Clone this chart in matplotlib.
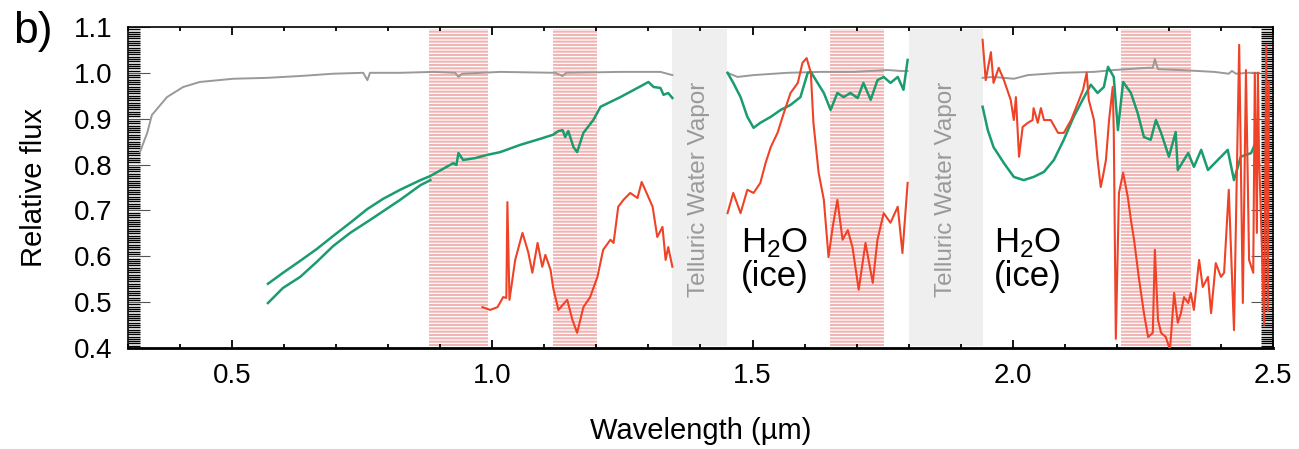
import matplotlib
matplotlib.use('Agg')
import matplotlib.pyplot as plt
from matplotlib.ticker import MultipleLocator, FormatStrFormatter

plt.rcParams['font.family'] = ['Liberation Sans', 'DejaVu Sans']
plt.rcParams['hatch.linewidth'] = 1.5

# ── Spectra (relative flux vs wavelength, µm) ────────────────────────────────
# Standard star ratio, broken at the telluric bands
std_wl_a = [0.323, 0.337, 0.346, 0.375, 0.406, 0.438, 0.502, 0.567, 0.631, 0.694,
            0.752, 0.760, 0.765, 0.823, 0.887, 0.929, 0.935, 0.942, 1.015, 1.121,
            1.135, 1.142, 1.246, 1.323, 1.346]
std_fx_a = [0.827, 0.869, 0.908, 0.947, 0.969, 0.980, 0.987, 0.989, 0.993, 0.998,
            1.000, 0.984, 1.000, 1.000, 1.002, 1.000, 0.991, 0.998, 1.002, 1.000,
            0.993, 1.000, 1.002, 1.002, 0.995]
std_wl_b = [1.452, 1.471, 1.502, 1.567, 1.631, 1.694, 1.760, 1.785, 1.798]
std_fx_b = [1.000, 0.991, 0.995, 1.000, 1.002, 1.002, 1.006, 1.004, 1.004]
std_wl_c = [1.942, 1.963, 2.002, 2.029, 2.092, 2.156, 2.194, 2.260, 2.269, 2.273,
            2.279, 2.323, 2.387, 2.415, 2.421, 2.429, 2.452, 2.473]
std_fx_c = [0.989, 0.991, 0.987, 0.995, 1.000, 1.002, 1.006, 1.011, 1.011, 1.030,
            1.008, 1.006, 1.002, 0.998, 1.004, 0.998, 1.000, 1.000]

# Green object: two visible arms that merge near 0.88 µm
grn_wl_arm = [0.569, 0.598, 0.631, 0.663, 0.694, 0.727, 0.765, 0.794, 0.823, 0.862, 0.881]
grn_fx_arm = [0.498, 0.531, 0.555, 0.588, 0.622, 0.651, 0.679, 0.701, 0.723, 0.755, 0.766]
grn_wl_a = [0.569, 0.598, 0.631, 0.663, 0.694, 0.727, 0.760, 0.790, 0.823, 0.862,
            0.881, 0.925, 0.931, 0.935, 0.944, 0.967, 0.990, 1.015, 1.054, 1.092,
            1.117, 1.127, 1.135, 1.140, 1.146, 1.156, 1.163, 1.175, 1.194, 1.208,
            1.246, 1.279, 1.300, 1.310, 1.323, 1.329, 1.338, 1.346]
grn_fx_a = [0.540, 0.564, 0.590, 0.616, 0.644, 0.673, 0.703, 0.725, 0.745, 0.766,
            0.775, 0.803, 0.799, 0.825, 0.810, 0.814, 0.821, 0.827, 0.843, 0.856,
            0.865, 0.873, 0.875, 0.860, 0.873, 0.838, 0.827, 0.869, 0.897, 0.926,
            0.947, 0.967, 0.980, 0.969, 0.967, 0.952, 0.956, 0.945]
grn_wl_b = [1.452, 1.463, 1.477, 1.490, 1.502, 1.515, 1.535, 1.554, 1.573, 1.592,
            1.606, 1.612, 1.625, 1.637, 1.650, 1.663, 1.675, 1.688, 1.702, 1.713,
            1.727, 1.740, 1.752, 1.765, 1.779, 1.790, 1.798]
grn_fx_b = [1.000, 0.978, 0.947, 0.904, 0.880, 0.891, 0.904, 0.919, 0.930, 0.947,
            1.000, 1.002, 0.978, 0.956, 0.919, 0.956, 0.947, 0.956, 0.945, 0.978,
            0.941, 0.984, 0.991, 0.978, 0.991, 0.963, 1.028]
grn_wl_c = [1.942, 1.952, 1.963, 1.983, 2.002, 2.021, 2.040, 2.060, 2.079, 2.098,
            2.117, 2.137, 2.150, 2.163, 2.175, 2.183, 2.194, 2.202, 2.212, 2.227,
            2.240, 2.252, 2.265, 2.275, 2.285, 2.300, 2.313, 2.317, 2.337, 2.348,
            2.362, 2.375, 2.394, 2.413, 2.425, 2.438, 2.458, 2.471]
grn_fx_c = [0.926, 0.875, 0.838, 0.803, 0.773, 0.766, 0.773, 0.784, 0.810, 0.854,
            0.904, 0.947, 0.974, 0.956, 0.969, 1.013, 0.991, 0.875, 0.980, 0.956,
            0.912, 0.860, 0.854, 0.897, 0.869, 0.817, 0.871, 0.788, 0.825, 0.795,
            0.832, 0.788, 0.810, 0.832, 0.766, 0.817, 0.825, 0.860]

# Red object
red_wl_a = [0.981, 0.996, 1.010, 1.021, 1.027, 1.029, 1.033, 1.044, 1.058, 1.069,
            1.077, 1.087, 1.096, 1.102, 1.112, 1.117, 1.127, 1.144, 1.154, 1.163,
            1.175, 1.188, 1.202, 1.213, 1.227, 1.233, 1.242, 1.252, 1.265, 1.279,
            1.287, 1.298, 1.308, 1.317, 1.327, 1.333, 1.338, 1.346]
red_fx_a = [0.489, 0.483, 0.489, 0.511, 0.509, 0.718, 0.505, 0.592, 0.651, 0.609,
            0.564, 0.629, 0.577, 0.603, 0.570, 0.531, 0.483, 0.505, 0.461, 0.433,
            0.489, 0.511, 0.555, 0.614, 0.636, 0.629, 0.708, 0.723, 0.738, 0.727,
            0.762, 0.734, 0.708, 0.642, 0.664, 0.592, 0.620, 0.577]
red_wl_b = [1.452, 1.463, 1.477, 1.490, 1.502, 1.515, 1.525, 1.535, 1.548, 1.560,
            1.573, 1.587, 1.596, 1.604, 1.612, 1.617, 1.627, 1.637, 1.646, 1.654,
            1.663, 1.673, 1.683, 1.692, 1.704, 1.717, 1.731, 1.740, 1.752, 1.765,
            1.779, 1.788, 1.798]
red_fx_b = [0.694, 0.738, 0.694, 0.745, 0.738, 0.760, 0.803, 0.838, 0.869, 0.912,
            0.956, 0.978, 1.022, 1.032, 1.000, 0.891, 0.782, 0.723, 0.598, 0.664,
            0.723, 0.636, 0.657, 0.620, 0.527, 0.629, 0.542, 0.636, 0.694, 0.673,
            0.708, 0.607, 0.760]
red_wl_c = [1.942, 1.948, 1.958, 1.963, 1.973, 1.983, 1.996, 2.002, 2.006, 2.012,
            2.019, 2.029, 2.038, 2.040, 2.048, 2.054, 2.060, 2.073, 2.087, 2.098,
            2.112, 2.125, 2.135, 2.142, 2.146, 2.156, 2.163, 2.169, 2.173, 2.179,
            2.185, 2.192, 2.194, 2.198, 2.204, 2.212, 2.221, 2.227, 2.233, 2.242,
            2.252, 2.260, 2.269, 2.273, 2.279, 2.285, 2.294, 2.302, 2.310, 2.317,
            2.323, 2.329, 2.337, 2.342, 2.348, 2.358, 2.365, 2.375, 2.381, 2.390,
            2.400, 2.406, 2.415, 2.425, 2.435, 2.442, 2.448, 2.454, 2.462, 2.465,
            2.469, 2.471, 2.473, 2.477, 2.483, 2.487, 2.490, 2.492]
red_fx_c = [1.072, 0.984, 1.045, 0.978, 1.011, 0.984, 0.941, 0.897, 0.947, 0.817,
            0.882, 0.891, 0.897, 0.923, 0.891, 0.923, 0.897, 0.897, 0.869, 0.869,
            0.897, 0.934, 0.963, 1.000, 0.941, 0.897, 0.810, 0.751, 0.773, 0.810,
            0.897, 0.969, 0.875, 0.420, 0.738, 0.782, 0.729, 0.679, 0.636, 0.555,
            0.476, 0.424, 0.433, 0.614, 0.461, 0.433, 0.424, 0.396, 0.520, 0.455,
            0.476, 0.511, 0.498, 0.520, 0.483, 0.592, 0.533, 0.555, 0.476, 0.585,
            0.555, 0.564, 0.745, 0.439, 1.061, 0.498, 1.006, 0.592, 0.564, 1.000,
            0.651, 1.000, 0.825, 0.679, 0.450, 1.060, 0.480, 0.980]

# Bands
ice_bands = [(0.879, 0.992), (1.117, 1.202), (1.648, 1.752), (2.208, 2.342)]
telluric_bands = [(1.346, 1.450), (1.800, 1.942)]
ice_labels_x = [1.477, 1.963]

C_RED = '#ef4226'
C_GREEN = '#1b9c6e'
C_STD = '#999999'
C_STRIPE = '#f2b3b3'


fig = plt.figure(figsize=(12.99, 4.49), dpi=100)
ax = fig.add_axes([0.0985, 0.225, 0.8815, 0.715])

for x0, x1 in ice_bands:
    ax.axvspan(x0, x1, ymin=0.006, ymax=0.994, facecolor='none',
               edgecolor=C_STRIPE, hatch='-----', linewidth=0, zorder=0)
for x0, x1 in telluric_bands:
    ax.axvspan(x0, x1, ymin=0.006, ymax=0.994, facecolor='#efefef',
               edgecolor='none', zorder=0)
    ax.text((x0 + x1) / 2, 0.745, 'Telluric Water Vapor', rotation=90,
            ha='center', va='center', color='#9a9a9a', fontsize=17.5)

for xt in ice_labels_x:
    ax.text(xt, 0.665, '$\\mathregular{H_2O}$\n(ice)', ha='left', va='top',
            fontsize=25, linespacing=1.0, color='black')

for wl, fx in [(std_wl_a, std_fx_a), (std_wl_b, std_fx_b), (std_wl_c, std_fx_c)]:
    ax.plot(wl, fx, color=C_STD, lw=1.4, zorder=2)
ax.plot(grn_wl_arm, grn_fx_arm, color=C_GREEN, lw=1.8, zorder=3)
for wl, fx in [(grn_wl_a, grn_fx_a), (grn_wl_b, grn_fx_b), (grn_wl_c, grn_fx_c)]:
    ax.plot(wl, fx, color=C_GREEN, lw=1.8, zorder=3)
for wl, fx in [(red_wl_a, red_fx_a), (red_wl_b, red_fx_b), (red_wl_c, red_fx_c)]:
    ax.plot(wl, fx, color=C_RED, lw=1.5, zorder=4)

ax.set_xlim(0.3, 2.5)
ax.set_ylim(0.4, 1.1)

ax.xaxis.set_major_locator(MultipleLocator(0.5))
ax.xaxis.set_minor_locator(MultipleLocator(0.1))
ax.yaxis.set_major_locator(MultipleLocator(0.1))
ax.yaxis.set_minor_locator(MultipleLocator(0.005))
ax.xaxis.set_major_formatter(FormatStrFormatter('%.1f'))
ax.yaxis.set_major_formatter(FormatStrFormatter('%.1f'))

ax.tick_params(axis='x', which='both', direction='in', top=True, width=1.3,
               labelsize=20, pad=11)
ax.tick_params(axis='x', which='major', length=6)
ax.tick_params(axis='x', which='minor', length=3)
ax.tick_params(axis='y', which='both', direction='in', right=True,
               labelsize=20, pad=11)
ax.tick_params(axis='y', which='major', length=16, width=0.8, color='#555555')
ax.tick_params(axis='y', which='minor', length=8.5, width=1.0, color='black')

for sp in ax.spines.values():
    sp.set_linewidth(1.2)
ax.spines['bottom'].set_linewidth(2.0)

ax.set_xlabel('Wavelength (\u00b5m)', fontsize=21, labelpad=20)
ax.set_ylabel('Relative flux', fontsize=21, labelpad=19)

# keep the end labels inside the frame
fig.canvas.draw()
ylabels = ax.get_yticklabels()
ylabels[0].set_va('bottom')
ylabels[-1].set_va('top')

fig.text(0.010, 0.975, 'b)', fontsize=32, ha='left', va='top')

fig.savefig('out.png', dpi=100)
